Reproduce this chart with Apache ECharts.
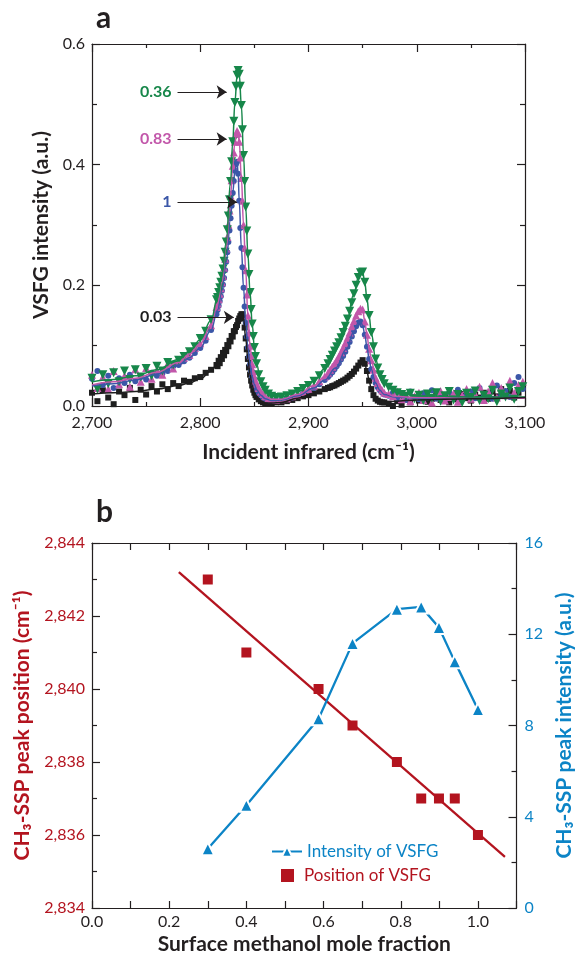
<!DOCTYPE html>
<html>
<head>
<meta charset="utf-8">
<script src="https://cdn.jsdelivr.net/npm/echarts@6/dist/echarts.min.js"></script>
<style>
  html, body { margin: 0; padding: 0; background: #fff; }
  #chart { width: 583px; height: 961px; }
</style>
</head>
<body>
<div id="chart"></div>
<script>
// ---- panel a: VSFG spectra (markers) ----
const wavenumber = [
  2700, 2705, 2710, 2715, 2720, 2725, 2730, 2735, 2740, 2745, 2750, 2755, 2760, 2765, 2770, 2775, 2780, 2785, 2790, 2795, 2800, 2805, 2810, 2815,
  2816, 2817, 2818, 2819, 2820, 2821, 2822, 2823, 2824, 2825, 2826, 2827, 2828, 2829, 2830, 2831, 2832, 2833, 2834, 2835, 2836, 2837, 2838, 2839, 2840, 2841, 2842, 2843, 2844, 2845, 2846, 2847, 2848, 2849, 2850, 2851, 2852,
  2854, 2856, 2858, 2860, 2863, 2866, 2870,
  2875, 2880, 2885, 2890, 2895, 2900, 2905, 2910, 2915,
  2918, 2920, 2922, 2924, 2926, 2928, 2930, 2932, 2934, 2936, 2938, 2940, 2942, 2944, 2946, 2948, 2950, 2952, 2954, 2956, 2958, 2960, 2962, 2964, 2966, 2968, 2970,
  2974, 2978, 2982, 2986, 2990, 2994, 2998, 3002, 3006, 3010, 3014, 3018, 3022, 3026, 3030, 3034, 3038, 3042, 3046, 3050, 3054, 3058, 3062, 3066, 3070, 3074, 3078, 3082, 3086, 3090, 3094, 3098
];
const frac036 = [
  .046, .028, .052, .037, .055, .040, .058, .044, .060, .048, .062, .050, .066, .058, .072, .068, .076, .082, .090, .098, .112, .124, .143, .176,
  .180, .188, .196, .205, .215, .227, .240, .255, .272, .292, .315, .342, .372, .405, .438, .472, .503, .530, .548, .556, .550, .530, .498, .458, .415, .372, .330, .290, .252, .218, .188, .160, .136, .115, .097, .082, .070,
  .052, .040, .032, .026, .020, .016, .014,
  .015, .017, .020, .024, .029, .034, .041, .050, .062,
  .070, .077, .084, .091, .098, .105, .113, .122, .132, .144, .157, .171, .186, .200, .213, .221, .222, .205, .178, .150, .122, .098, .078, .063, .052, .044, .037,
  .031, .026, .022, .019, .016, .021, .012, .018, .009, .020, .013, .022, .008, .017, .024, .010, .019, .006, .021, .014, .025, .009, .018, .012, .026, .007, .020, .015, .030, .011, .024, .032
];
const frac083 = [
  .052, .030, .048, .028, .058, .036, .050, .032, .061, .040, .063, .045, .060, .052, .070, .062, .075, .080, .085, .096, .104, .116, .134, .164,
  .170, .177, .186, .195, .205, .216, .229, .244, .261, .280, .301, .324, .349, .374, .398, .420, .438, .451, .456, .452, .438, .412, .378, .340, .300, .262, .225, .185, .150, .122, .100, .083, .069, .058, .049, .042, .037,
  .030, .024, .020, .016, .013, .011, .010,
  .011, .013, .016, .019, .023, .028, .034, .041, .049,
  .055, .060, .065, .070, .076, .082, .089, .096, .104, .113, .122, .132, .141, .150, .157, .161, .160, .140, .118, .095, .076, .060, .047, .038, .031, .026, .022,
  .020, .016, .024, .011, .018, .008, .016, .022, .010, .017, .006, .019, .025, .009, .015, .021, .007, .018, .028, .012, .020, .032, .010, .024, .038, .014, .030, .018, .042, .022, .035, .040
];
const frac100 = [
  .045, .058, .035, .050, .030, .046, .038, .052, .041, .048, .044, .055, .050, .054, .058, .066, .068, .074, .080, .088, .096, .108, .126, .152,
  .159, .166, .174, .182, .191, .201, .212, .225, .239, .255, .272, .291, .311, .332, .353, .373, .390, .401, .405, .385, .340, .295, .262, .230, .196, .165, .138, .115, .097, .082, .069, .058, .049, .042, .036, .031, .027,
  .022, .018, .014, .012, .010, .009, .009,
  .010, .012, .014, .017, .021, .025, .030, .036, .043,
  .048, .052, .056, .061, .066, .071, .077, .083, .090, .098, .106, .115, .124, .132, .138, .140, .134, .118, .098, .078, .061, .048, .038, .031, .026, .022, .019,
  .017, .022, .013, .019, .010, .024, .015, .011, .021, .014, .026, .012, .018, .009, .022, .015, .027, .011, .019, .024, .013, .030, .016, .021, .012, .034, .018, .025, .015, .038, .048, .028
];
const frac003 = [
  .022, .008, .026, .014, .003, .024, .018, .030, .010, .027, .019, .033, .024, .036, .028, .038, .033, .042, .040, .046, .048, .055, .060, .068,
  .066, .075, .071, .081, .078, .088, .084, .093, .091, .101, .099, .108, .107, .116, .115, .124, .124, .131, .134, .141, .145, .149, .152, .152, .145, .130, .112, .094, .078, .064, .052, .042, .034, .027, .022, .018, .015,
  .011, .008, .006, .005, .005, .005, .006,
  .006, .008, .010, .013, .016, .018, .021, .024, .028,
  .030, .031, .033, .034, .036, .038, .040, .042, .044, .047, .050, .053, .057, .062, .067, .072, .076, .070, .058, .042, .028, .018, .012, .009, .007, .006, .006,
  .004, .000, .008, .002, .011, .006, .014, .009, .016, .007, .012, .018, .010, .014, .006, .017, .011, .020, .013, .009, .019, .014, .022, .012, .024, .016, .028, .018, .025, .014, .022, .030
];

// ---- panel a: fitted curves ----
const fitWavenumber = [2700, 2720, 2740, 2760, 2780, 2790, 2800, 2810, 2816, 2820, 2824, 2828, 2830, 2832, 2834, 2835, 2836, 2838, 2840, 2842, 2844, 2846, 2848, 2850, 2852, 2856, 2860, 2866, 2875, 2890, 2905, 2915, 2925, 2935, 2942, 2946, 2948, 2950, 2952, 2954, 2956, 2958, 2962, 2966, 2970, 2980, 3000, 3050, 3100];
const fit036 = [.040, .044, .050, .060, .077, .091, .110, .142, .180, .215, .272, .372, .438, .503, .548, .556, .550, .498, .415, .330, .252, .188, .136, .097, .070, .040, .026, .016, .015, .024, .041, .062, .095, .138, .186, .213, .221, .222, .205, .178, .150, .122, .078, .052, .037, .024, .017, .015, .015];
const fit083 = [.035, .040, .046, .056, .072, .086, .103, .134, .170, .205, .261, .349, .398, .438, .456, .452, .438, .378, .300, .225, .150, .100, .069, .049, .037, .024, .016, .011, .011, .019, .034, .049, .073, .108, .141, .157, .161, .160, .140, .118, .095, .076, .047, .031, .022, .016, .014, .013, .013];
const fit100 = [.033, .037, .043, .053, .068, .080, .096, .126, .159, .191, .239, .311, .353, .390, .405, .385, .340, .262, .196, .138, .097, .069, .049, .036, .027, .018, .012, .009, .010, .017, .030, .043, .063, .094, .124, .138, .140, .134, .118, .098, .078, .061, .038, .026, .019, .015, .013, .013, .013];
const fit003 = [.020, .022, .024, .028, .034, .038, .045, .058, .070, .081, .094, .110, .118, .126, .135, .140, .145, .152, .145, .112, .078, .052, .034, .022, .015, .008, .005, .005, .006, .013, .021, .028, .035, .046, .057, .067, .072, .076, .070, .058, .042, .028, .012, .007, .006, .008, .010, .012, .014];

// arrow annotations: label, y level, arrow start / end (cm-1)
const annotLabels = ['0.36', '0.83', '1', '0.03'];
const annotY = [0.5205, 0.4426, 0.338, 0.147];
const annotStart = [2779, 2779, 2779, 2779];
const annotEnd = [2824.4, 2824.4, 2834, 2831];

// ---- panel b ----
const moleFraction = [0.3, 0.4, 0.587, 0.675, 0.79, 0.853, 0.899, 0.94, 1.0];
const peakPosition = [2843.0, 2841.0, 2840.0, 2839.0, 2838.0, 2837.0, 2837.0, 2837.0, 2836.0];
const peakIntensity = [2.6, 4.5, 8.3, 11.6, 13.1, 13.2, 12.3, 10.8, 8.7];
const fitFraction = [0.225, 1.07];
const fitPosition = [2843.2, 2835.4];

const GREEN = '#17874a';
const MAGENTA = '#c257aa';
const BLUE = '#3b57a8';
const BLACK = '#1e1e1e';
const RED = '#b3141f';
const CYAN = '#0c84c6';
const INK = '#231f20';
const FONT = 'Lato';

const zip = (xs, ys) => xs.map((x, i) => [x, ys[i]]);
const comma = v => String(v).replace(/\B(?=(\d{3})+(?!\d))/g, ',');

const frameAxis = (extra) => Object.assign({
  type: 'value',
  splitLine: { show: false },
  axisLine: { show: true, onZero: false, lineStyle: { color: INK, width: 1.2 } },
  axisTick: { show: true, inside: true, length: 8, lineStyle: { color: INK, width: 1.2 } },
  axisLabel: { fontFamily: FONT, fontSize: 16, color: INK },
  nameTextStyle: { fontFamily: FONT, fontSize: 21, fontWeight: 'bold', color: INK }
}, extra);

const spectra = [
  { name: '0.03', marks: frac003, fit: fit003, color: BLACK, symbol: 'rect', size: 6, rotate: 0 },
  { name: '1', marks: frac100, fit: fit100, color: BLUE, symbol: 'circle', size: 6, rotate: 0 },
  { name: '0.83', marks: frac083, fit: fit083, color: MAGENTA, symbol: 'triangle', size: 8, rotate: 0 },
  { name: '0.36', marks: frac036, fit: fit036, color: GREEN, symbol: 'triangle', size: 9, rotate: 180 }
];
const annotColors = [GREEN, MAGENTA, BLUE, BLACK];

let series = [];
spectra.forEach(s => {
  series.push({
    name: 'marks ' + s.name,
    type: 'scatter',
    xAxisIndex: 0, yAxisIndex: 0,
    symbol: s.symbol, symbolSize: s.size, symbolRotate: s.rotate,
    itemStyle: { color: s.color, opacity: 1 },
    data: zip(wavenumber, s.marks),
    z: 2
  });
  series.push({
    name: 'fit ' + s.name,
    type: 'line',
    xAxisIndex: 0, yAxisIndex: 0,
    smooth: 0.4, smoothMonotone: 'x',
    showSymbol: false,
    lineStyle: { color: s.color, width: 1.5 },
    data: zip(fitWavenumber, s.fit),
    z: 3
  });
});

// arrows with their labels, hung on the black fit curve
series[1].markLine = {
  silent: true,
  symbol: ['none', 'arrow'],
  symbolSize: 10,
  lineStyle: { color: INK, width: 1.2, type: 'solid' },
  itemStyle: { color: INK },
  label: { show: true, position: 'start', distance: 6, fontFamily: FONT, fontSize: 16, fontWeight: 'bold' },
  data: annotLabels.map((t, i) => [
    { coord: [annotStart[i], annotY[i]], label: { formatter: t, color: annotColors[i] } },
    { coord: [annotEnd[i], annotY[i]] }
  ])
};
series[1].z = 5;

// panel b
series.push({
  name: 'fit position',
  type: 'line',
  xAxisIndex: 2, yAxisIndex: 2,
  showSymbol: false,
  lineStyle: { color: RED, width: 2.3 },
  data: zip(fitFraction, fitPosition),
  z: 2
});
series.push({
  name: 'Intensity of VSFG',
  type: 'line',
  xAxisIndex: 2, yAxisIndex: 3,
  symbol: 'triangle', symbolSize: 13,
  itemStyle: { color: CYAN, borderColor: '#fff', borderWidth: 2 },
  lineStyle: { color: CYAN, width: 2.3 },
  data: zip(moleFraction, peakIntensity),
  z: 3
});
series.push({
  name: 'Position of VSFG',
  type: 'scatter',
  xAxisIndex: 2, yAxisIndex: 2,
  symbol: 'rect', symbolSize: 10,
  itemStyle: { color: RED, opacity: 1 },
  data: zip(moleFraction, peakPosition),
  z: 4
});

const legendText = { fontFamily: FONT, fontSize: 17 };

const option = {
  backgroundColor: '#fff',
  animation: false,
  title: [
    { text: 'a', left: 91, top: -2, textStyle: { fontFamily: FONT, fontSize: 30, fontWeight: 'bold', color: INK } },
    { text: 'b', left: 91, top: 492, textStyle: { fontFamily: FONT, fontSize: 30, fontWeight: 'bold', color: INK } }
  ],
  legend: [
    {
      left: 266, top: 838,
      itemWidth: 30, itemHeight: 13,
      selectedMode: false,
      textStyle: Object.assign({ color: CYAN }, legendText),
      data: ['Intensity of VSFG']
    },
    {
      left: 276, top: 862,
      itemWidth: 13, itemHeight: 13,
      selectedMode: false,
      textStyle: Object.assign({ color: RED, padding: [0, 0, 0, 5] }, legendText),
      data: ['Position of VSFG']
    }
  ],
  grid: [
    { left: 92, top: 44, width: 433, height: 362 },
    { left: 92, top: 543, width: 432, height: 365 }
  ],
  xAxis: [
    frameAxis({
      gridIndex: 0, position: 'bottom', min: 2700, max: 3100, interval: 100,
      minorTick: { show: true, splitNumber: 2, length: 4, lineStyle: { color: INK, width: 1.2 } },
      axisLabel: { fontFamily: FONT, fontSize: 16, color: INK, margin: 9, formatter: v => comma(v) },
      name: 'Incident infrared (cm\u207B\u00B9)', nameLocation: 'middle', nameGap: 36
    }),
    frameAxis({
      gridIndex: 0, position: 'top', min: 2700, max: 3100, interval: 100,
      minorTick: { show: true, splitNumber: 2, length: 4, lineStyle: { color: INK, width: 1.2 } },
      axisLabel: { show: false }
    }),
    frameAxis({
      gridIndex: 1, position: 'bottom', min: 0, max: 1.1, interval: 0.1,
      axisTick: { show: true, inside: true, length: 7, lineStyle: { color: INK, width: 1.2 } },
      axisLabel: {
        fontFamily: FONT, fontSize: 16, color: INK, margin: 6,
        formatter: v => (Math.round(v * 10) % 2 === 0 && v < 1.05) ? v.toFixed(1) : ''
      },
      name: 'Surface methanol mole fraction', nameLocation: 'middle', nameGap: 26
    }),
    frameAxis({
      gridIndex: 1, position: 'top', min: 0, max: 1.1, interval: 0.1,
      axisTick: { show: true, inside: true, length: 7, lineStyle: { color: INK, width: 1.2 } },
      axisLabel: { show: false }
    })
  ],
  yAxis: [
    frameAxis({
      gridIndex: 0, position: 'left', min: 0, max: 0.6, interval: 0.2,
      minorTick: { show: true, splitNumber: 2, length: 5, lineStyle: { color: INK, width: 1.2 } },
      axisLabel: { fontFamily: FONT, fontSize: 16, color: INK, margin: 7, formatter: v => v.toFixed(1) },
      name: 'VSFG intensity (a.u.)', nameLocation: 'middle', nameGap: 40
    }),
    frameAxis({
      gridIndex: 0, position: 'right', min: 0, max: 0.6, interval: 0.2,
      minorTick: { show: true, splitNumber: 2, length: 5, lineStyle: { color: INK, width: 1.2 } },
      axisLabel: { show: false }
    }),
    frameAxis({
      gridIndex: 1, position: 'left', min: 2834, max: 2844, interval: 2,
      minorTick: { show: true, splitNumber: 2, length: 5, lineStyle: { color: INK, width: 1.2 } },
      axisLabel: { fontFamily: FONT, fontSize: 16, color: RED, margin: 7, formatter: v => comma(v) },
      name: 'CH\u2083-SSP peak position (cm\u207B\u00B9)', nameLocation: 'middle', nameGap: 59,
      nameTextStyle: { fontFamily: FONT, fontSize: 21, fontWeight: 'bold', color: RED }
    }),
    frameAxis({
      gridIndex: 1, position: 'right', min: 0, max: 16, interval: 4,
      minorTick: { show: true, splitNumber: 2, length: 5, lineStyle: { color: INK, width: 1.2 } },
      axisLabel: { fontFamily: FONT, fontSize: 16, color: CYAN, margin: 8 },
      name: 'CH\u2083-SSP peak intensity (a.u.)', nameLocation: 'middle', nameGap: 37,
      nameTextStyle: { fontFamily: FONT, fontSize: 21, fontWeight: 'bold', color: CYAN }
    })
  ],
  series: series
};

const myChart = echarts.init(document.getElementById('chart'));
myChart.setOption(option);
</script>
</body>
</html>
